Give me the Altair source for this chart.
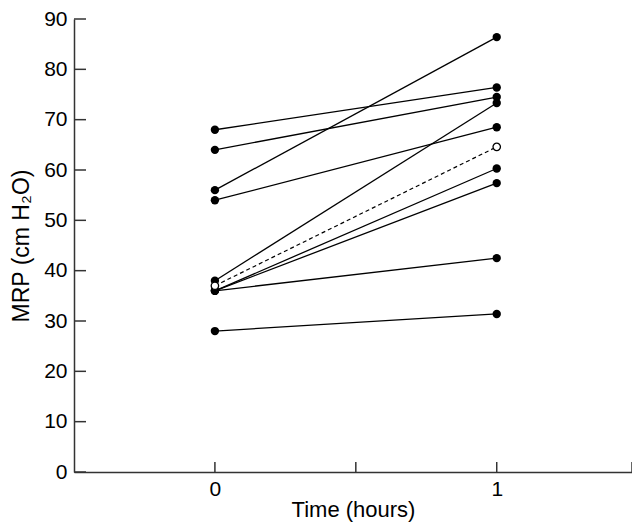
import altair as alt
import pandas as pd

# Data
subjects = ["S1", "S2", "S3", "S4", "S5", "S6", "S7", "S8", "S9", "S10"]
mrp_0h = [68, 64, 56, 54, 38, 36, 36, 36, 28, 37]
mrp_1h = [76.4, 74.5, 86.4, 68.5, 73.3, 60.3, 57.4, 42.5, 31.4, 64.6]
marker = ["filled"] * 9 + ["open"]
times = [0, 1]

x_domain = [-0.5, 1.48]
y_ticks = [0, 10, 20, 30, 40, 50, 60, 70, 80, 90]
x_ticks = [0, 0.5, 1, 1.48]
x_labels = [0, 1]

rows = []
for s, a, b, m in zip(subjects, mrp_0h, mrp_1h, marker):
    rows.append({"subject": s, "Time": times[0], "MRP": a, "kind": m})
    rows.append({"subject": s, "Time": times[1], "MRP": b, "kind": m})
df = pd.DataFrame(rows)

W, H = 558, 453
FONT = "Liberation Sans"

xscale = alt.Scale(domain=x_domain, nice=False, zero=False)
yscale = alt.Scale(domain=[0, 90], nice=False)

xaxis = alt.Axis(values=x_labels, tickSize=0, grid=False, labelFontSize=21,
                 labelPadding=6, labelFont=FONT, labelColor="#000",
                 title="Time (hours)", titleFontSize=22, titleFontWeight="normal",
                 titleFont=FONT, titlePadding=0, titleColor="#000",
                 domainColor="#333", domainWidth=1.5, format="d")
yaxis = alt.Axis(values=y_ticks, tickSize=0, grid=False, labelFontSize=21,
                 labelPadding=7, labelFont=FONT, labelColor="#000",
                 title="MRP (cm H₂O)", titleFontSize=23, titleFontWeight="normal",
                 titleFont=FONT, titlePadding=10, titleColor="#000",
                 domainColor="#333", domainWidth=1.5)

X = alt.X("Time:Q", scale=xscale, axis=xaxis)
Y = alt.Y("MRP:Q", scale=yscale, axis=yaxis)

base = alt.Chart(df)

solid = base.transform_filter(alt.datum.kind == "filled").mark_line(
    color="black", strokeWidth=1.3
).encode(x=X, y=Y, detail="subject:N")

dashed = base.transform_filter(alt.datum.kind == "open").mark_line(
    color="black", strokeWidth=1.2, strokeDash=[4, 3]
).encode(x=X, y=Y, detail="subject:N")

filled_pts = base.transform_filter(alt.datum.kind == "filled").mark_circle(
    color="black", size=70, opacity=1
).encode(x=X, y=Y)

open_pts = base.transform_filter(alt.datum.kind == "open").mark_point(
    shape="circle", fill="white", filled=True, stroke="black", strokeWidth=1.3,
    size=55, opacity=1
).encode(x=X, y=Y)

ytick_df = pd.DataFrame({"MRP": y_ticks})
ytick_rules = alt.Chart(ytick_df).mark_rule(color="#333", strokeWidth=1.5).encode(
    y=Y, x=alt.value(0), x2=alt.value(12),
)

xtick_df = pd.DataFrame({"Time": x_ticks})
xtick_rules = alt.Chart(xtick_df).mark_rule(color="#333", strokeWidth=1.5).encode(
    x=X, y=alt.value(H), y2=alt.value(H - 10),
)

chart = alt.layer(
    solid, dashed, filled_pts, open_pts, ytick_rules, xtick_rules
).properties(
    width=W, height=H,
    autosize=alt.AutoSizeParams(type="none"),
    padding={"left": 66, "top": 11, "right": 0, "bottom": 52},
).configure(background="white").configure_view(stroke=None)

chart.save("out.html", embed_options={"renderer": "svg", "actions": False})
